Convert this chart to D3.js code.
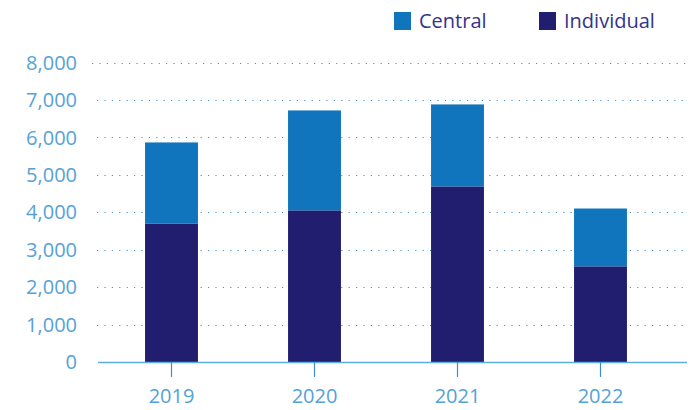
<!DOCTYPE html>
<html>
<head>
<meta charset="utf-8">
<script src="https://cdn.jsdelivr.net/npm/d3@7"></script>
<style>
  body { margin: 0; background: #fff; }
  text { font-family: "Open Sans", "Noto Sans", sans-serif; }
</style>
</head>
<body>
<div class="chart"></div>
<script>
let years = ["2019", "2020", "2021", "2022"];
let individual = [3700, 4050, 4690, 2555];
let central = [2165, 2670, 2190, 1545];
let yTicks = [0, 1000, 2000, 3000, 4000, 5000, 6000, 7000, 8000];
let seriesNames = ["Central", "Individual"];
let seriesColors = ["#1075bc", "#221e6f"];

let w = 699;
let h = 410;

let svg = d3.select(".chart")
    .append("svg")
    .attr("width", w)
    .attr("height", h);

let x = d3.scaleBand()
    .domain(years)
    .range([100, 672])
    .paddingInner(0.63)
    .paddingOuter(0.315);

let y = d3.scaleLinear()
    .domain([0, 8000])
    .range([362, 62.5]);

// gridlines
svg.append("g")
    .selectAll("line")
    .data(yTicks.filter(function (d) { return d > 0; }))
    .enter().append("line")
    .attr("x1", function (d) { return d == 8000 ? 92 : 97; })
    .attr("x2", 686)
    .attr("y1", function (d) { return Math.round(y(d)) + 0.5; })
    .attr("y2", function (d) { return Math.round(y(d)) + 0.5; })
    .attr("stroke", "#3f95d3")
    .attr("stroke-width", 1.2)
    .attr("stroke-dasharray", "1.2,6.2");

// y labels
svg.append("g")
    .selectAll("text")
    .data(yTicks)
    .enter().append("text")
    .attr("x", 77)
    .attr("y", function (d) { return y(d); })
    .attr("dy", "0.36em")
    .attr("text-anchor", "end")
    .attr("font-size", "20px")
    .attr("fill", "#55a2d8")
    .text(function (d) { return d3.format(",")(d); });

// bars
let stacked = years.map(function (yr, i) {
    return { year: yr, ind: individual[i], cen: central[i] };
});

let bars = svg.append("g");
bars.selectAll(".ind")
    .data(stacked)
    .enter().append("rect")
    .attr("class", "ind")
    .attr("x", function (d) { return x(d.year); })
    .attr("width", x.bandwidth())
    .attr("y", function (d) { return y(d.ind); })
    .attr("height", function (d) { return y(0) - y(d.ind); })
    .attr("fill", seriesColors[1]);

bars.selectAll(".cen")
    .data(stacked)
    .enter().append("rect")
    .attr("class", "cen")
    .attr("x", function (d) { return x(d.year); })
    .attr("width", x.bandwidth())
    .attr("y", function (d) { return y(d.ind + d.cen); })
    .attr("height", function (d) { return y(d.ind) - y(d.ind + d.cen); })
    .attr("fill", seriesColors[0]);

// x axis
svg.append("line")
    .attr("x1", 98)
    .attr("x2", 687)
    .attr("y1", 362.5)
    .attr("y2", 362.5)
    .attr("stroke", "#5aaee2")
    .attr("stroke-width", 1.5);

svg.append("g")
    .selectAll("line")
    .data(years)
    .enter().append("line")
    .attr("x1", function (d) { return x(d) + x.bandwidth() / 2; })
    .attr("x2", function (d) { return x(d) + x.bandwidth() / 2; })
    .attr("y1", 362)
    .attr("y2", 377)
    .attr("stroke", "#3f8fcf")
    .attr("stroke-width", 1.2);

svg.append("g")
    .selectAll("text")
    .data(years)
    .enter().append("text")
    .attr("x", function (d) { return x(d) + x.bandwidth() / 2; })
    .attr("y", 403)
    .attr("text-anchor", "middle")
    .attr("font-size", "20px")
    .attr("fill", "#55a2d8")
    .text(function (d) { return d; });

// legend
let legendX = [394, 539];
let legend = svg.append("g")
    .selectAll("g")
    .data(seriesNames)
    .enter().append("g")
    .attr("transform", function (d, i) { return "translate(" + legendX[i] + ",12)"; });

legend.append("rect")
    .attr("width", 17)
    .attr("height", 18)
    .attr("fill", function (d, i) { return seriesColors[i]; });

legend.append("text")
    .attr("x", 25)
    .attr("y", 16)
    .attr("font-size", "20px")
    .attr("fill", "#35338a")
    .text(function (d) { return d; });
</script>
</body>
</html>
